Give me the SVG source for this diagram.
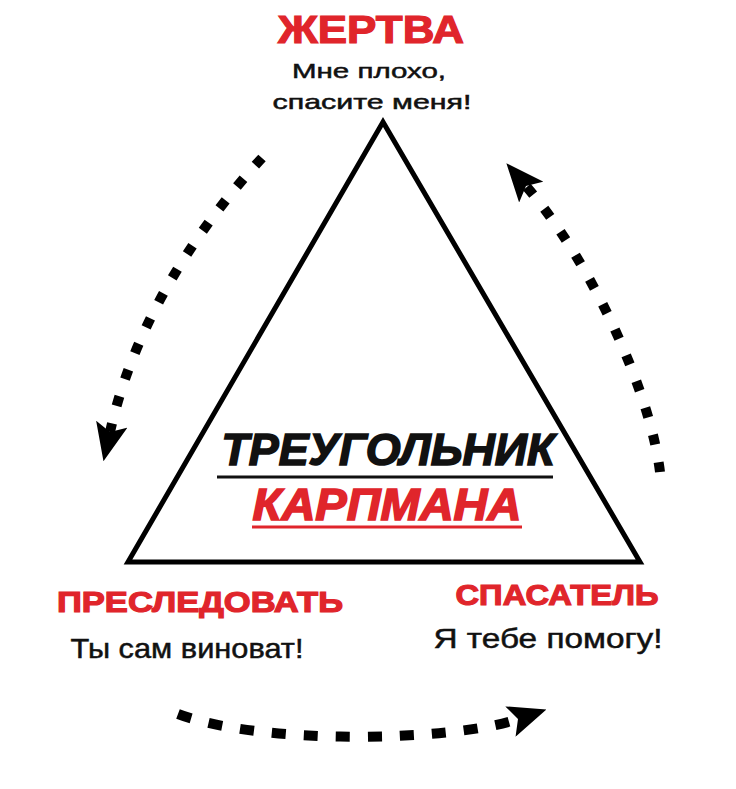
<svg xmlns="http://www.w3.org/2000/svg" width="736" height="789" viewBox="0 0 736 789">
<style>
.red{fill:#e0252b;stroke:#e0252b;stroke-width:1.2;font-family:"Liberation Sans",Arial,sans-serif;font-weight:bold}
.blk{fill:#111;stroke:#111;stroke-width:0.5;font-family:"Liberation Sans",Arial,sans-serif}
.ttl{font-family:"Liberation Sans",Arial,sans-serif;font-weight:bold;font-style:italic;stroke-width:1.6}
.dash{fill:none;stroke:#000;stroke-width:10;stroke-dasharray:10 18}
.dashb{fill:none;stroke:#000;stroke-width:10;stroke-dasharray:14 18}
</style>
<defs>
<marker id="ah" viewBox="0 0 38 32" markerWidth="38" markerHeight="32" refX="8" refY="16" orient="auto" markerUnits="userSpaceOnUse">
<path d="M0,0 L38,16 L0,32 L8,16 Z" fill="#000"/>
</marker>
</defs>
<rect width="736" height="789" fill="#fff"/>
<g id="triangle">
<polygon points="383,122 128,562 640,562" fill="none" stroke="#000" stroke-width="5" stroke-linejoin="miter"/>
</g>
<g id="title">
<text class="ttl" x="388" y="465" font-size="44" fill="#111" stroke="#111" text-anchor="middle" textLength="333" lengthAdjust="spacingAndGlyphs">ТРЕУГОЛЬНИК</text>
<line x1="217" y1="477" x2="553" y2="477" stroke="#111" stroke-width="3"/>
<text class="ttl" x="387" y="520" font-size="44" fill="#e0252b" stroke="#e0252b" text-anchor="middle" textLength="269" lengthAdjust="spacingAndGlyphs">КАРПМАНА</text>
<line x1="252" y1="527" x2="522" y2="527" stroke="#e0252b" stroke-width="3"/>
</g>
<g id="victim">
<text class="red" x="371" y="43" font-size="39" text-anchor="middle" textLength="186" lengthAdjust="spacingAndGlyphs">ЖЕРТВА</text>
<text class="blk" x="369" y="78" font-size="21" text-anchor="middle" textLength="154" lengthAdjust="spacingAndGlyphs">Мне плохо,</text>
<text class="blk" x="372" y="109" font-size="21" text-anchor="middle" textLength="199" lengthAdjust="spacingAndGlyphs">спасите меня!</text>
</g>
<g id="persecutor">
<text class="red" x="200" y="612" font-size="30" text-anchor="middle" textLength="286" lengthAdjust="spacingAndGlyphs">ПРЕСЛЕДОВАТЬ</text>
<text class="blk" x="187" y="658" font-size="28" text-anchor="middle" textLength="233" lengthAdjust="spacingAndGlyphs">Ты сам виноват!</text>
</g>
<g id="rescuer">
<text class="red" x="557" y="605" font-size="30" text-anchor="middle" textLength="203" lengthAdjust="spacingAndGlyphs">СПАСАТЕЛЬ</text>
<text class="blk" x="548" y="648" font-size="28" text-anchor="middle" textLength="229" lengthAdjust="spacingAndGlyphs">Я тебе помогу!</text>
</g>
<g id="connectors">
<path class="dash" d="M262,158 C200,225 135,320 110,432" marker-end="url(#ah)"/>
<path class="dash" d="M660,472 C650,390 590,260 526,186" marker-end="url(#ah)"/>
<path class="dashb" d="M178,714 C260,745 450,742 518,719" marker-end="url(#ah)"/>
</g>
</svg>
